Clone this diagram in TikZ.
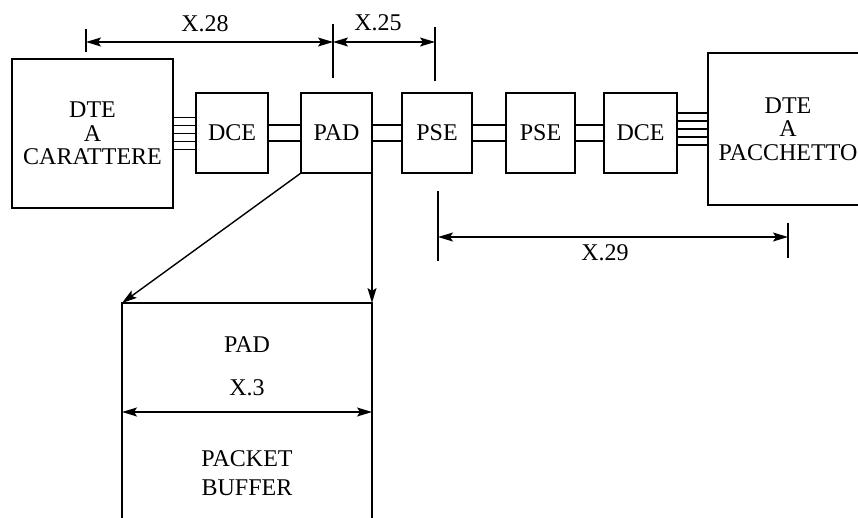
\documentclass[tikz,border=0pt]{standalone}
\usepackage{fontspec}
\setmainfont{Liberation Serif}
\usetikzlibrary{arrows.meta,calc}
\begin{document}
\begin{tikzpicture}[x=1pt,y=-1pt,
  box/.style={draw,line width=2pt,inner sep=0pt,outer sep=0pt,align=center,
    font=\fontsize{24}{23.5}\selectfont},
  lbl/.style={inner sep=0pt,outer sep=0pt,align=center,font=\fontsize{24}{29}\selectfont},
  wire/.style={line width=1.4pt},
  tip/.style={},
  dim/.style={line width=1.4pt,{Stealth[length=15pt,width=9pt,inset=3pt]}-{Stealth[length=15pt,width=9pt,inset=3pt]}},
  arr/.style={line width=1.4pt,-{Stealth[length=15pt,width=9pt,inset=3pt]}}]
\useasboundingbox (0,0) rectangle (858,517);
% main chain
\node[box,minimum width=161pt,minimum height=149pt] (dteA) at (92.5,133.5) {DTE\\A\\CARATTERE};
\node[box,minimum width=72pt,minimum height=80pt] (dce1) at (232,133) {DCE};
\node[box,minimum width=71pt,minimum height=80pt] (pad) at (336.5,133) {PAD};
\node[box,minimum width=70pt,minimum height=80pt] (pse1) at (437,133) {PSE};
\node[box,minimum width=69pt,minimum height=80pt] (pse2) at (540.5,133) {PSE};
\node[box,minimum width=73pt,minimum height=80pt] (dce2) at (640.5,133) {DCE};
\node[box,minimum width=160pt,minimum height=152pt] (dteP) at (788,129) {DTE\\A\\PACCHETTO};
% multi-wire links
\foreach \d in {-16,-8,0,8,16}{
  \draw[wire] ([yshift=\d pt]dteA.east) -- ([yshift=\d pt]dteA.east -| dce1.west);
  \draw[wire] ([yshift=\d pt]dteP.west) -- ([yshift=\d pt]dteP.west -| dce2.east);
}
% double links
\foreach \a/\b in {dce1/pad,pad/pse1,pse1/pse2,pse2/dce2}{
  \foreach \d in {-8,8}{
    \draw[wire] ([yshift=\d pt]\a.east) -- ([yshift=\d pt]\b.west);
  }
}
% X.28 / X.25 dimensions
\coordinate (t1a) at (86,29);  \coordinate (t1b) at (86,52);
\coordinate (t2a) at (333,24); \coordinate (t2b) at (333,78);
\coordinate (t3a) at (435,27); \coordinate (t3b) at (435,81);
\draw[wire] (t1a) -- (t1b);
\draw[wire] (t2a) -- (t2b);
\draw[wire] (t3a) -- (t3b);
\coordinate (d1) at (86,42); \coordinate (d2) at (333,42); \coordinate (d3) at (435,42);
\draw[dim] (d1) -- (d2);
\draw[dim] (d2) -- (d3);
\node[lbl] (l28) at (205,24) {X.28};
\node[lbl] (l25) at (378,22.5) {X.25};
% X.29 dimension
\coordinate (t4a) at (438,191); \coordinate (t4b) at (438,261);
\coordinate (t5a) at (788,223); \coordinate (t5b) at (788,258);
\draw[wire] (t4a) -- (t4b);
\draw[wire] (t5a) -- (t5b);
\coordinate (d4) at (438,237); \coordinate (d5) at (788,237);
\draw[dim] (d4) -- (d5);
\node[lbl] (l29) at (605,253) {X.29};
% PAD detail
\node[draw,line width=2pt,inner sep=0pt,outer sep=0pt,minimum width=250pt,minimum height=237pt] (buf) at (247,421.5) {};
\draw[arr] (pad.south west) -- (buf.north west);
\draw[arr] (pad.south east) -- (buf.north east);
\node[lbl] (padl) at (247,345) {PAD};
\node[lbl] (x3) at (247,388) {X.3};
\coordinate (x3a) at (122,412);
\draw[dim] (buf.west |- x3a) -- (buf.east |- x3a);
\node[lbl] (pb) at (247,473) {PACKET\\BUFFER};
\end{tikzpicture}
\end{document}
